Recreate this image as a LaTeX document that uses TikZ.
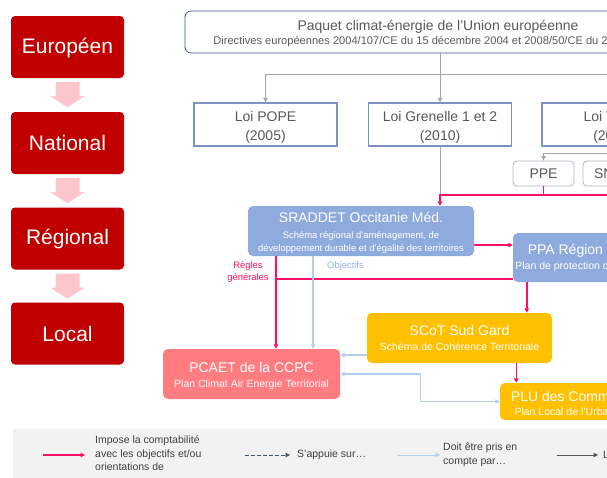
\documentclass[tikz,border=0pt]{standalone}
\usepackage{fontspec}
\setmainfont{Liberation Sans}
\usetikzlibrary{arrows.meta}
\definecolor{levelred}{HTML}{C00000}
\definecolor{levelpink}{HTML}{FBC6CC}
\definecolor{paquetblue}{HTML}{2F5597}
\definecolor{loiblue}{HTML}{7F93BF}
\definecolor{textgrey}{HTML}{595959}
\definecolor{planborder}{HTML}{ADB6C6}
\definecolor{linegrey}{HTML}{A6A6A6}
\definecolor{impose}{HTML}{FF0F66}
\definecolor{pristblue}{HTML}{B4CFEC}
\definecolor{sraddetblue}{HTML}{8FAADC}
\definecolor{scotyellow}{HTML}{FFC000}
\definecolor{pcaetred}{HTML}{FF7C80}
\definecolor{legendbg}{HTML}{F2F2F2}
\definecolor{appuie}{HTML}{44546A}
\definecolor{legendtext}{HTML}{404040}
\newcommand{\fs}[2]{\fontsize{#1}{#2}\selectfont}
\newcommand{\tip}{Triangle[length=4.5pt,width=4.5pt]}
\newcommand{\lift}[1]{\rule{0pt}{#1}}

\tikzset{
  levelbox/.style={fill=levelred, rounded corners=4pt, minimum width=113pt,
    minimum height=62pt, text=white, font=\fs{21}{24}},
  levelarrow/.style={fill=levelpink},
  paquetbox/.style={draw=paquetblue, line width=0.8pt, rounded corners=6pt,
    minimum width=506pt, minimum height=42pt, inner sep=0pt, align=center,
    text=textgrey, font=\fs{14}{16}},
  loibox/.style={draw=loiblue, line width=1.2pt, fill=white, minimum width=143pt,
    minimum height=43pt, inner sep=0pt, align=center, text=textgrey, font=\fs{14}{19}},
  planbox/.style={draw=planborder, line width=0.8pt, rounded corners=4pt,
    minimum width=61pt, minimum height=25pt, inner sep=0pt, text=textgrey, font=\fs{14}{16}},
  schemabox/.style={rounded corners=5pt, minimum height=50pt, inner sep=0pt,
    align=center, text=white, font=\fs{14}{16}},
  greyline/.style={draw=linegrey, line width=0.9pt},
  greyarrow/.style={greyline, -{\tip}},
  pinkline/.style={draw=impose, line width=1.4pt},
  pinkarrow/.style={pinkline, -{\tip}},
  bluearrow/.style={draw=pristblue, line width=1.3pt, -{\tip}},
  legendlabel/.style={anchor=west, inner sep=0pt, align=left, text=legendtext, font=\fs{10.5}{13.5}},
}

\begin{document}
\begin{tikzpicture}[x=1pt,y=-1pt]
  \useasboundingbox (0,0) rectangle (607,477);
  \clip (0,0) rectangle (607,477);

  \begin{scope}
    \node[levelbox] (eur) at (67.5,47) {\lift{17pt}Européen};
    \node[levelbox] (nat) at (67.5,143) {National};
    \node[levelbox] (reg) at (67.5,238.5) {Régional};
    \node[levelbox] (loc) at (67.5,333.5) {Local};
    \foreach \a in {eur,nat,reg}
      \fill[levelarrow] ([xshift=-12pt,yshift=-4pt]\a.south) -- ++(24,0) -- ++(0,14)
        -- ++(5,0) -- ++(-17,11) -- ++(-17,-11) -- ++(5,0) -- cycle;
  \end{scope}

  \begin{scope}
    \node[paquetbox] (paquet) at (438,32) {\lift{14pt}Paquet climat-énergie de l'Union européenne\\[-2pt]
      {\fs{11.1}{13}Directives européennes 2004/107/CE du 15 décembre 2004 et 2008/50/CE du 21 mai 2008}};
    \node[loibox] (pope) at (265.5,124.5) {\lift{16pt}Loi POPE\\(2005)};
    \node[loibox] (grenelle) at (440,124.5) {\lift{16pt}Loi Grenelle 1 et 2\\(2010)};
    \node[loibox] (tecv) at (613.5,124.5) {\lift{16pt}Loi TECV\\(2015)};
    \node[planbox] (ppe) at (543.5,173.5) {PPE};
    \node[planbox] (snbc) at (613.5,173.5) {SNBC};
    \coordinate (split) at (440,74);
    \coordinate (bus) at (440,195);

    \draw[greyline] (grenelle.north |- paquet.south) -- (split);
    \draw[greyarrow] (split) -- (grenelle.north);
    \draw[greyarrow] (split) -| (pope.north);
    \draw[greyarrow] (split) -| (tecv.north);
    \draw[greyarrow] (tecv.south) -- (snbc.north);
    \draw[greyarrow] ([yshift=-7pt]tecv.south) -| (ppe.north);
    \draw[greyline] (grenelle.south) -- (bus);
  \end{scope}

  \begin{scope}
    \node[schemabox, fill=sraddetblue, minimum width=226pt] (sraddet) at (361,231)
      {\lift{14pt}SRADDET Occitanie Méd.\\[0pt]{\fs{9.4}{12}Schéma régional d'aménagement, de}\\[-2.5pt]
       {\fs{9.4}{12}développement durable et d'égalité des territoires}};
    \node[schemabox, fill=sraddetblue, minimum width=167pt, minimum height=49pt] (ppa) at (596.5,257.5)
      {PPA Région Occitanie\\[-1pt]{\fs{10.5}{12}Plan de protection de l'atmosphère}};
    \node[schemabox, fill=scotyellow, minimum width=185pt] (scot) at (459.5,338)
      {SCoT Sud Gard\\[-1pt]{\fs{10.5}{12}Schéma de Cohérence Territoriale}};
    \node[schemabox, fill=pcaetred, minimum width=177pt] (pcaet) at (251.5,374)
      {\lift{15pt}PCAET de la CCPC\\[-1pt]{\fs{10.5}{12}Plan Climat Air Energie Territorial}};
    \node[schemabox, fill=scotyellow, minimum width=151pt, minimum height=37pt] (plu) at (575.5,401.5)
      {\lift{15pt}PLU des Communes\\[-2pt]{\fs{10.5}{12}Plan Local de l'Urbanisme}};
    \coordinate (regle) at (276,279);
    \coordinate (objectif) at (313,279);

    \node[text=impose, align=center, inner sep=0pt, font=\fs{9.4}{12}] (regles) at (248,272.5) {Règles\\générales};
    \node[text=pristblue!85!blue, inner sep=0pt, font=\fs{9.4}{12}] (objectifs) at (345.5,266) {Objectifs};

    \draw[pinkarrow] (snbc.south) |- (bus) -- (bus |- sraddet.north);
    \draw[pinkline] (ppe.south) -- (ppe.south |- bus);
    \draw[pinkarrow] ([yshift=-14pt]sraddet.east) -- ([yshift=-14pt]sraddet.east -| ppa.west);
    \draw[pinkarrow] (regle |- sraddet.south) -- (regle |- pcaet.north);
    \draw[pinkline] ([yshift=-21.5pt]ppa.west) -- (regle);
    \draw[bluearrow] (objectif |- sraddet.south) -- (objectif |- pcaet.north);
    \draw[pinkarrow] ([xshift=14pt]ppa.south west) -- ([xshift=14pt]ppa.south west |- scot.north);
    \draw[bluearrow] ([yshift=-17pt]scot.west) -- ([yshift=-17pt]scot.west -| pcaet.east);
    \draw[pinkarrow] ([xshift=-36pt]scot.south east) -- ([xshift=-36pt]scot.south east |- plu.north);
    \draw[bluearrow, {\tip}-{\tip}] (pcaet.east) -- ++(80,0) |- (plu.west);
  \end{scope}

  \begin{scope}
    \fill[legendbg] (13,429) rectangle (620,490);
    \coordinate (imposeA) at (43,455);
    \coordinate (imposeB) at (85,455);
    \coordinate (appuieA) at (245,455);
    \coordinate (appuieB) at (290,455);
    \coordinate (pristA) at (398,455);
    \coordinate (pristB) at (440,455);
    \coordinate (lienA) at (557,455);
    \coordinate (lienB) at (598,455);
    \draw[pinkarrow] (imposeA) -- (imposeB);
    \draw[draw=appuie, line width=0.9pt, dash pattern=on 3.5pt off 2.5pt, -{\tip}] (appuieA) -- (appuieB);
    \draw[draw=pristblue, line width=1pt, -{\tip}] (pristA) -- (pristB);
    \draw[draw=textgrey, line width=0.9pt, -{\tip}] (lienA) -- (lienB);
    \node[legendlabel] (imposetext) at (95,453.5) {Impose la comptabilité\\avec les objectifs et/ou\\orientations de};
    \node[legendlabel] (appuietext) at (297,455) {S'appuie sur…};
    \node[legendlabel] (pristtext) at (443,455) {Doit être pris en\\compte par…};
    \node[legendlabel] (lientext) at (603,455) {L};
  \end{scope}
\end{tikzpicture}
\end{document}
